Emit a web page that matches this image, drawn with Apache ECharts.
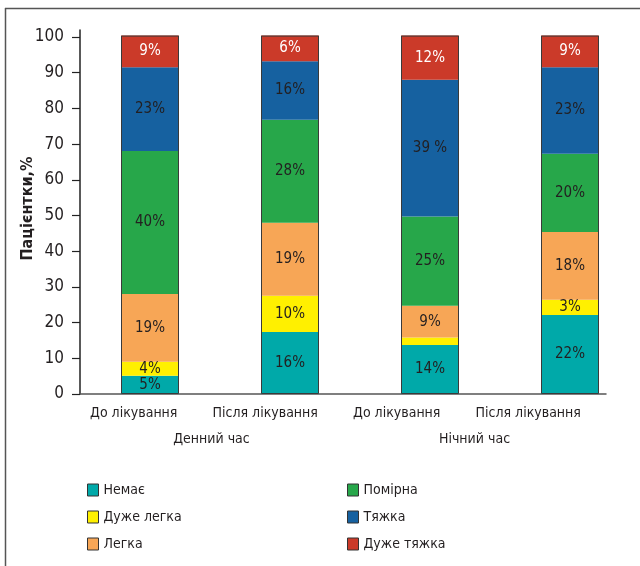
<!DOCTYPE html>
<html>
<head>
<meta charset="utf-8">
<script src="https://cdn.jsdelivr.net/npm/echarts@6/dist/echarts.min.js"></script>
<style>
  html, body { margin: 0; padding: 0; background: #fff; }
  #chart { width: 640px; height: 566px; }
</style>
</head>
<body>
<div id="chart"></div>
<script>
// categories
const stages = ['До лікування', 'Після лікування', 'До лікування', 'Після лікування'];
const periods = ['Денний час', 'Нічний час'];
const severities = ['Немає', 'Дуже легка', 'Легка', 'Помірна', 'Тяжка', 'Дуже тяжка'];

// segment heights as drawn (%)
const none = [5.1, 17.4, 13.7, 22.1];
const veryMild = [3.9, 10.1, 2.1, 4.3];
const mild = [19.0, 20.5, 8.9, 19.0];
const moderate = [40.1, 28.8, 25.0, 21.9];
const severe = [23.4, 16.4, 38.3, 24.2];
const verySevere = [8.9, 7.2, 12.4, 8.9];

// printed labels
const noneLbl = ['5%', '16%', '14%', '22%'];
const veryMildLbl = ['4%', '10%', '', '3%'];
const mildLbl = ['19%', '19%', '9%', '18%'];
const moderateLbl = ['40%', '28%', '25%', '20%'];
const severeLbl = ['23%', '16%', '39 %', '23%'];
const verySevereLbl = ['9%', '6%', '12%', '9%'];

const yTicks = [0, 10, 20, 30, 40, 50, 60, 70, 80, 90, 100];

const FONT = '"DejaVu Sans Condensed", "Liberation Sans Narrow", "DejaVu Sans", sans-serif';
const TXT = '#231f20';
const colors = ['#00a9a9', '#fff000', '#f7a656', '#27a74a', '#1661a0', '#cb3a29'];

const values = [none, veryMild, mild, moderate, severe, verySevere];
const labels = [noneLbl, veryMildLbl, mildLbl, moderateLbl, severeLbl, verySevereLbl];
const totals = stages.map((_, i) => values.reduce((s, arr) => s + arr[i], 0));

const myChart = echarts.init(document.getElementById('chart'));

const series = severities.map((name, k) => ({
  name: name,
  type: 'bar',
  stack: 'total',
  xAxisIndex: 0,
  yAxisIndex: 0,
  barWidth: 58,
  clip: false,
  itemStyle: { color: colors[k] },
  label: {
    show: true,
    position: 'inside',
    color: k === 5 ? '#fff' : TXT,
    fontFamily: FONT,
    fontSize: 15,
    formatter: (p) => labels[k][p.dataIndex],
  },
  emphasis: { disabled: true },
  data: values[k],
}));

// thin outline around each whole bar
series.push({
  type: 'bar',
  xAxisIndex: 0,
  yAxisIndex: 0,
  barWidth: 58,
  barGap: '-100%',
  clip: false,
  z: 5,
  silent: true,
  itemStyle: { color: 'transparent', borderColor: '#3a3a3a', borderWidth: 1 },
  data: totals,
});

const legendBase = {
  orient: 'vertical',
  top: 478,
  itemWidth: 11,
  itemHeight: 12,
  itemGap: 13,
  icon: 'rect',
  itemStyle: { borderColor: '#333', borderWidth: 1 },
  textStyle: { fontFamily: FONT, fontSize: 14, color: TXT },
  selectedMode: false,
};

const option = {
  backgroundColor: '#fff',
  animation: false,
  color: colors,
  graphic: [
    { type: 'line', shape: { x1: 5, y1: 8.5, x2: 640, y2: 8.5 }, style: { stroke: '#555', lineWidth: 1.5 } },
    { type: 'line', shape: { x1: 5.5, y1: 8, x2: 5.5, y2: 566 }, style: { stroke: '#555', lineWidth: 1.5 } },
  ],
  legend: [
    Object.assign({}, legendBase, { left: 82, data: severities.slice(0, 3) }),
    Object.assign({}, legendBase, { left: 342, data: severities.slice(3) }),
  ],
  grid: [
    { left: 80, width: 565, top: 37, bottom: 172 },
    { left: 80, right: 34, top: 30, bottom: 172 },
  ],
  xAxis: [
    {
      type: 'category',
      gridIndex: 0,
      data: stages,
      axisLine: { show: false },
      axisTick: { show: false },
      axisLabel: { show: false },
    },
    {
      type: 'category',
      gridIndex: 1,
      position: 'bottom',
      data: stages,
      axisLine: { show: true, lineStyle: { color: '#555', width: 1.5 } },
      axisTick: { show: false },
      axisLabel: {
        margin: 12,
        interval: 0,
        formatter: (v) => '{a|' + v + '}',
        rich: { a: { fontFamily: FONT, fontSize: 14, color: TXT, padding: [0, 24, 0, 0] } },
      },
    },
    {
      type: 'category',
      gridIndex: 1,
      position: 'bottom',
      data: periods,
      axisLine: { show: false },
      axisTick: { show: false },
      axisLabel: { margin: 38, interval: 0, fontFamily: FONT, fontSize: 14, color: TXT },
    },
  ],
  yAxis: [
    {
      type: 'value',
      gridIndex: 0,
      min: 0,
      max: 100,
      interval: 10,
      name: 'Пацієнтки,%',
      nameLocation: 'middle',
      nameRotate: 90,
      nameGap: 44,
      nameMoveOverlap: false,
      nameTextStyle: { fontFamily: FONT, fontSize: 16, fontWeight: 'bold', color: TXT, padding: [0, 0, 0, 14] },
      axisLine: { show: false },
      axisTick: { show: true, length: 8, lineStyle: { color: '#222', width: 1.2 } },
      axisLabel: {
        margin: 16,
        fontFamily: FONT,
        fontSize: 17,
        color: TXT,
        formatter: (v) => (yTicks.indexOf(v) >= 0 ? String(v) : ''),
      },
      splitLine: { show: false },
    },
    {
      type: 'value',
      gridIndex: 1,
      min: 0,
      max: 1,
      axisLine: { show: true, lineStyle: { color: '#222', width: 1.5 } },
      axisTick: { show: false },
      axisLabel: { show: false },
      splitLine: { show: false },
    },
  ],
  series: series,
};

myChart.setOption(option);
</script>
</body>
</html>
